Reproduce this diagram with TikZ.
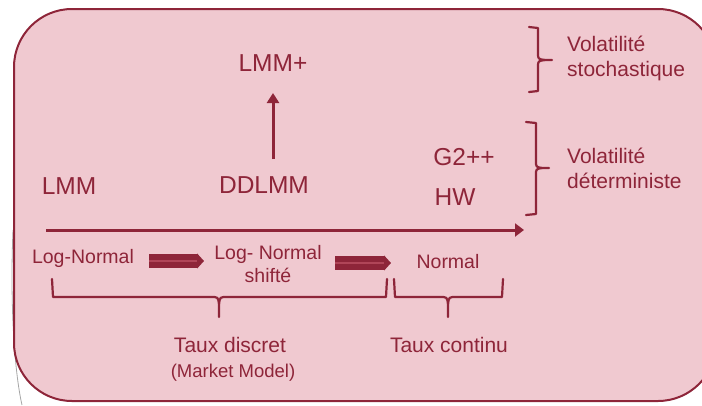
\documentclass[tikz,border=0pt]{standalone}
\usepackage{fontspec}
\setmainfont{Liberation Sans}
\usetikzlibrary{arrows.meta}
\definecolor{wine}{HTML}{8E2539}
\definecolor{winelight}{HTML}{B04558}
\definecolor{blush}{HTML}{F0C9D0}
\tikzset{
  x=1pt, y=-1pt,
  txt/.style={text=wine, inner sep=0pt, font=\fontsize{#1}{#1}\selectfont},
  model/.style={txt=24.5},
  side/.style={txt=21, align=left, anchor=west, font=\fontsize{21}{25}\selectfont},
  dist/.style={txt=19.5, align=center, font=\fontsize{19.5}{23}\selectfont},
  taux/.style={txt=21},
  brk/.style={draw=wine, line width=2.2pt, line cap=round, line join=round},
  bigarrow/.style={draw=wine, line width=3pt, -{Triangle[length=9pt,width=13pt]}},
  fatarrow/.style={draw=wine, line width=6pt, double=winelight, double distance=1.2pt,
    -{Triangle[length=7pt,width=15pt]}}
}
\begin{document}
\begin{tikzpicture}
\useasboundingbox (0,0) rectangle (702,405);
% faint outline showing behind the frame
\draw[gray!70, line width=0.8pt] (13,230) .. controls (10,300) and (14,370) .. (22,405);
% frame
\draw[wine, fill=blush, line width=2pt, rounded corners=58pt] (14,9) rectangle (716,401);

% models
\node[model] (lmmp) at (273,63) {LMM+};
\node[model] (lmm) at (69,186) {LMM};
\node[model] (ddlmm) at (264,185) {DDLMM};
\node[model] (g2) at (464,157) {G2++};
\node[model] (hw) at (455,197) {HW};
\coordinate (ddtop) at (273,159);
\coordinate (uptip) at (273,93);
\draw[wine, line width=3pt, -{Triangle[length=10pt,width=12pt]}] (ddtop) -- (uptip);

% main axis
\coordinate (axl) at (46,230);
\coordinate (axr) at (524,230);
\draw[bigarrow] (axl) -- (axr);

% distributions
\node[dist] (ln) at (83,258) {Log-Normal};
\node[dist] (lns) at (268,264) {Log- Normal\\shifté};
\node[dist] (nor) at (448,262) {Normal};
\coordinate (a1s) at (149,261);
\coordinate (a1e) at (204,261);
\coordinate (a2s) at (335,263);
\coordinate (a2e) at (391,263);
\draw[fatarrow] (a1s) -- (a1e);
\draw[fatarrow] (a2s) -- (a2e);

% braces under the distributions
\draw[brk] (52,279) -- (53,297) -- (211,297) .. controls (218,297) .. (219,304) -- (219,317);
\draw[brk] (219,304) .. controls (220,297) .. (227,297) -- (386,297) -- (387,279);
\draw[brk] (394,279) -- (395,297) -- (440,297) .. controls (447,297) .. (448,304) -- (448,317);
\draw[brk] (448,304) .. controls (449,297) .. (456,297) -- (502,297) -- (503,279);

\node[taux] (disc) at (230,345) {Taux discret};
\node[txt=18.5] (mm) at (233,373) {(Market Model)};
\node[taux] (cont) at (449,345) {Taux continu};

% braces on the right
\draw[brk] (529,27) -- (538,28) -- (538,53) .. controls (538,59) .. (545,60) -- (552,60);
\draw[brk] (545,60) .. controls (538,61) .. (538,67) -- (538,91) -- (529,92);
\node[side] (stoch) at (567,58) {Volatilité\\stochastique};
\draw[brk] (526,122) -- (536,123) -- (536,161) .. controls (536,167) .. (542,168) -- (549,168);
\draw[brk] (542,168) .. controls (536,169) .. (536,175) -- (536,214) -- (526,215);
\node[side] (det) at (567,168) {Volatilité\\déterministe};
\end{tikzpicture}
\end{document}
